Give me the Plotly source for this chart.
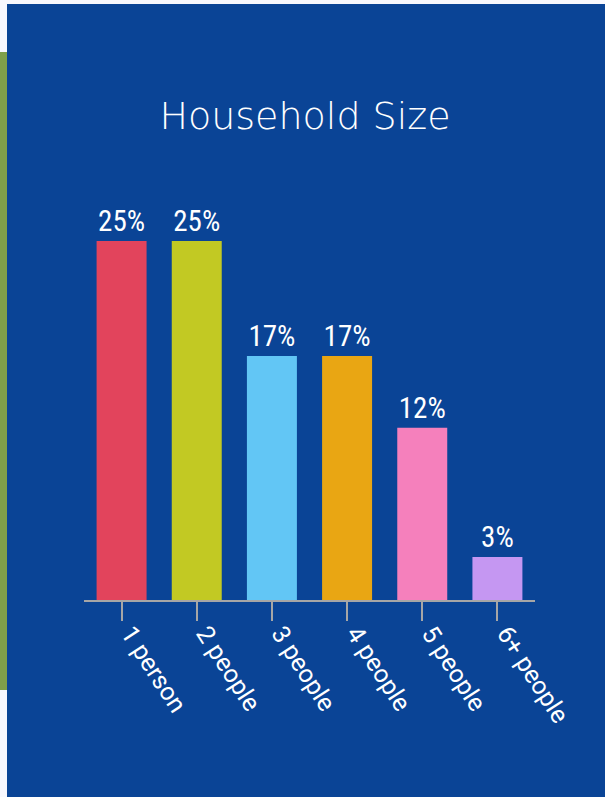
import plotly.graph_objects as go

categories = ["1 person", "2 people", "3 people", "4 people", "5 people", "6+ people"]
values = [25, 25, 17, 17, 12, 3]
labels = ["25%", "25%", "17%", "17%", "12%", "3%"]
colors = ["#E2445C", "#C2C923", "#62C6F5", "#E9A613", "#F580BC", "#C597F2"]

BLUE = "#0A4496"
GRID = "#A6A6A6"

fig = go.Figure(
    go.Bar(
        x=categories,
        y=values,
        marker=dict(color=colors, line=dict(width=0)),
        text=labels,
        textposition="outside",
        textfont=dict(family="Roboto Condensed, Liberation Sans Narrow, Roboto, sans-serif", size=29, color="white"),
        constraintext="none",
        cliponaxis=False,
        hoverinfo="skip",
    )
)

fig.update_layout(
    width=605,
    height=797,
    paper_bgcolor="#F8F8FE",
    plot_bgcolor=BLUE,
    margin=dict(l=84, r=70, t=198, b=197),
    bargap=0.335,
    showlegend=False,
    title=dict(
        text="Household Size",
        x=305 / 605,
        xanchor="center",
        y=1 - 116 / 797,
        yanchor="middle",
        font=dict(family="DejaVu Sans", size=38, color="white", weight=200),
    ),
    shapes=[
        dict(type="rect", xref="paper", yref="paper",
             x0=(7 - 84) / 451, x1=(605 - 84) / 451,
             y0=-197 / 402, y1=(600 - 4) / 402,
             fillcolor=BLUE, line=dict(width=0), layer="below"),
        dict(type="rect", xref="paper", yref="paper",
             x0=(0 - 84) / 451, x1=(7 - 84) / 451,
             y0=(600 - 690) / 402, y1=(600 - 52) / 402,
             fillcolor="#7FA04A", line=dict(width=0), layer="below"),
    ],
)

fig.update_xaxes(
    range=[-0.5, 5.5],
    showline=True,
    linecolor=GRID,
    linewidth=2,
    ticks="outside",
    ticklen=19,
    tickwidth=2,
    tickcolor=GRID,
    tickangle=57,
    ticklabelshift=9,
    ticklabelstandoff=-12,
    tickfont=dict(family="Roboto, sans-serif", size=25, color="white"),
    showgrid=False,
    zeroline=False,
)
fig.update_yaxes(range=[0, 28], visible=False, showgrid=False, zeroline=False)

fig.write_html(
    "out.html",
    config={"displayModeBar": False},
    post_script="document.body.style.margin='0';document.body.style.overflow='hidden';",
)
